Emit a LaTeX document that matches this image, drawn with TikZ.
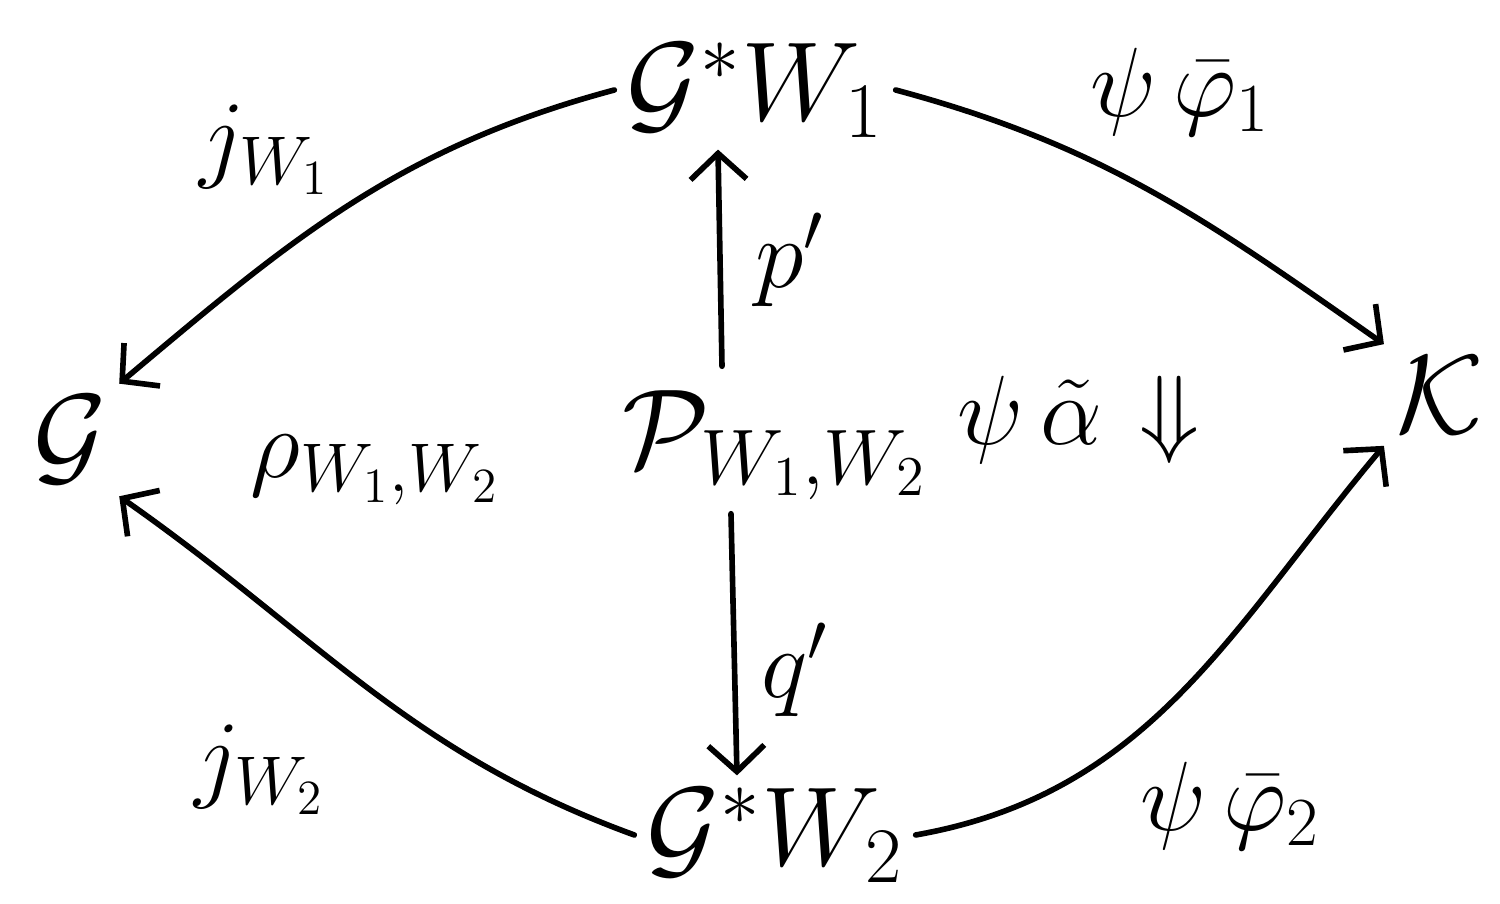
\documentclass[tikz,border=0pt]{standalone}
\usepackage{fix-cm}
\usepackage{amsmath,amssymb}
\usetikzlibrary{arrows.meta}
\tikzset{
  obj/.style={font=\fontsize{32}{38}\selectfont},
  lab/.style={font=\fontsize{28}{34}\selectfont, inner sep=1pt},
  arr/.style={line width=1.6pt, line cap=round,
    -{Straight Barb[length=2.6mm,width=5.6mm,line width=1.6pt]}}
}
\begin{document}
\begin{tikzpicture}
 \useasboundingbox (0,0) rectangle (15,9.04);
 % objects
 \node[obj] (G) at (0.7,4.64) {$\mathcal{G}$};
 \node[obj] (G1) at (7.55,8.14) {$\mathcal{G}^{*}W_1$};
 \node[obj, inner sep=1pt] (P) at (7.75,4.59) {$\mathcal{P}_{W_1,W_2}$};
 \node[obj] (G2) at (7.75,0.69) {$\mathcal{G}^{*}W_2$};
 \node[obj] (K) at (14.4,5.09) {$\mathcal{K}$};
 % arrows
 \draw[arr] (G1.west) to[out=195,in=40] (G.north east);
 \draw[arr] (G1.east) to[out=-15,in=145] (K.north west);
 \draw[arr] (G2.west) to[out=160,in=-35] (G.south east);
 \draw[arr] (G2.east) to[out=10,in=230] (K.south west);
 \draw[arr] ([xshift=-5.3mm,yshift=2mm]P.north) -- ([xshift=-3.7mm]G1.south);
 \draw[arr] ([xshift=-4.4mm,yshift=-1mm]P.south) -- ([xshift=-3.8mm]G2.north);
 % labels
 \node[lab] (jw1) at (2.65,7.54) {$j_{W_1}$};
 \node[lab] (pf1) at (11.8,8.12) {$\psi\,\bar{\varphi}_1$};
 \node[lab] (p) at (7.9,6.44) {$p'$};
 \node[lab] (q) at (7.95,2.34) {$q'$};
 \node[lab] (jw2) at (2.6,1.34) {$j_{W_2}$};
 \node[lab] (pf2) at (12.3,0.98) {$\psi\,\bar{\varphi}_2$};
 \node[lab] (rho) at (3.75,4.34) {$\rho_{W_1,W_2}$};
 \node[lab] (alpha) at (10.3,4.84) {$\psi\,\tilde{\alpha}$};
 \node[lab] (cell) at (11.7,4.84) {$\Downarrow$};
\end{tikzpicture}
\end{document}
